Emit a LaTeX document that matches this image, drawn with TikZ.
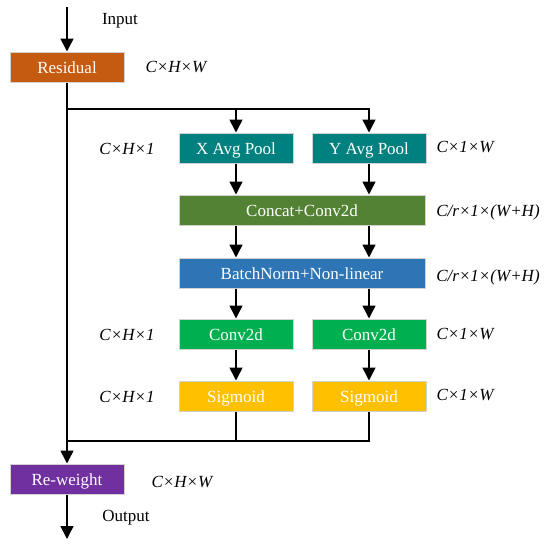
\documentclass[tikz,border=0pt]{standalone}
\usepackage{fontspec}
\setmainfont{Liberation Serif}
\usetikzlibrary{arrows.meta}
\definecolor{resorange}{HTML}{C55A11}
\definecolor{poolteal}{HTML}{00807E}
\definecolor{catgreen}{HTML}{548235}
\definecolor{bnblue}{HTML}{2E75B6}
\definecolor{convgreen}{HTML}{00B050}
\definecolor{sigyellow}{HTML}{FFC000}
\definecolor{rwpurple}{HTML}{7030A0}

\begin{document}
\begin{tikzpicture}[x=1pt,y=-1pt,
    box/.style={draw=gray!35, line width=1pt, minimum height=30pt, inner sep=0pt,
        text height=15.5pt, text depth=3pt, text=white, font=\fontsize{17}{20}\selectfont},
    narrow/.style={box, minimum width=114pt},
    wide/.style={box, minimum width=246pt},
    dims/.style={font=\fontsize{17}{20}\selectfont\itshape},
    plain/.style={font=\fontsize{17}{20}\selectfont},
    line/.style={line width=1.5pt},
    arr/.style={line, -{Triangle[length=13pt,width=13pt]}}]
        \useasboundingbox (0,0) rectangle (550,546);

        \node[narrow, fill=resorange] (res) at (67,67) {Residual};
        \node[narrow, fill=poolteal] (xpool) at (236,148) {X Avg Pool};
        \node[narrow, fill=poolteal] (ypool) at (369,148) {Y Avg Pool};
        \node[wide, fill=catgreen] (concat) at (302,210) {Concat+Conv2d};
        \node[wide, fill=bnblue] (bn) at (302,273) {BatchNorm+Non-linear};
        \node[narrow, fill=convgreen] (xconv) at (236,334) {Conv2d};
        \node[narrow, fill=convgreen] (yconv) at (369,334) {Conv2d};
        \node[narrow, fill=sigyellow] (xsig) at (236,396) {Sigmoid};
        \node[narrow, fill=sigyellow] (ysig) at (369,396) {Sigmoid};
        \node[narrow, fill=rwpurple] (rw) at (67,479) {Re-weight};

        \coordinate (in) at (67,7);
        \coordinate (out) at (67,539);
        \coordinate (split) at (67,109);
        \coordinate (merge) at (67,441);

        \node[plain] (inlabel) at (120,21) {Input};
        \node[plain] (outlabel) at (126,518) {Output};

        \node[dims] (resdim) at (176,67) {C×H×W};
        \node[dims] (xpooldim) at (127,149) {C×H×1};
        \node[dims] (ypooldim) at (465,147) {C×1×W};
        \node[dims] (catdim) at (488,212) {C/r×1×(W+H)};
        \node[dims] (bndim) at (488,277) {C/r×1×(W+H)};
        \node[dims] (xconvdim) at (127,335) {C×H×1};
        \node[dims] (yconvdim) at (465,334) {C×1×W};
        \node[dims] (xsigdim) at (127,397) {C×H×1};
        \node[dims] (ysigdim) at (465,395) {C×1×W};
        \node[dims] (rwdim) at (182,482) {C×H×W};

        \draw[arr] (in) -- (res.north);
        \draw[arr] (res.south) -- (rw.north);
        \draw[arr] (split) -| (xpool.north);
        \draw[arr] (split) -| (ypool.north);
        \draw[arr] (xpool.south) -- (xpool.south |- concat.north);
        \draw[arr] (ypool.south) -- (ypool.south |- concat.north);
        \draw[arr] (xpool.south |- concat.south) -- (xpool.south |- bn.north);
        \draw[arr] (ypool.south |- concat.south) -- (ypool.south |- bn.north);
        \draw[arr] (xconv.north |- bn.south) -- (xconv.north);
        \draw[arr] (yconv.north |- bn.south) -- (yconv.north);
        \draw[arr] (xconv.south) -- (xsig.north);
        \draw[arr] (yconv.south) -- (ysig.north);
        \draw[line] (xsig.south) |- (merge);
        \draw[line] (ysig.south) |- (merge);
        \draw[arr] (rw.south) -- (out);
\end{tikzpicture}
\end{document}
